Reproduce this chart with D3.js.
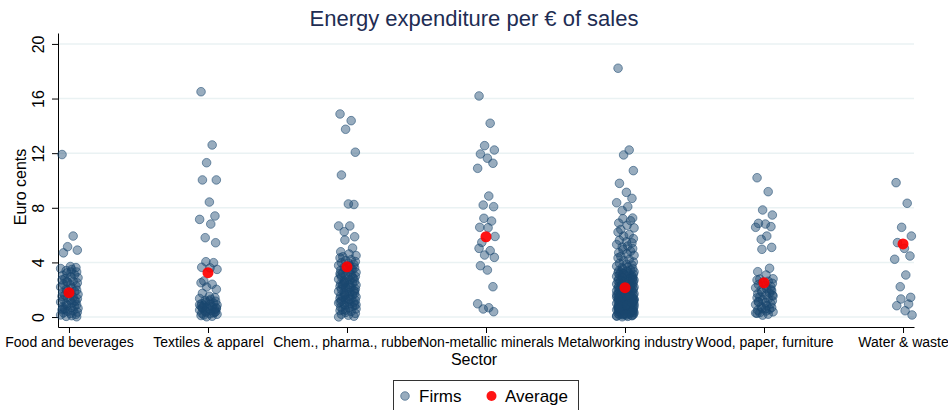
<!DOCTYPE html>
<html>
<head>
<meta charset="utf-8">
<script src="https://cdn.jsdelivr.net/npm/d3@7"></script>
<style>
  html, body { margin: 0; padding: 0; background: #fff; }
  svg { display: block; font-family: "Liberation Sans", Arial, Helvetica, sans-serif; }
</style>
</head>
<body>
<svg id="chart" width="948" height="410"></svg>
<script>
// ---------------- DATA ----------------
const categories = ["Food and beverages", "Textiles & apparel", "Chem., pharma., rubber",
  "Non-metallic minerals", "Metalworking industry", "Wood, paper, furniture", "Water & waste"];

const yTicks = [0, 4, 8, 12, 16, 20];

// Sector averages (euro cents per € of sales)
const averages = [1.78, 3.25, 3.68, 5.88, 2.15, 2.51, 5.35];

// Firm-level values
const foodValues = [11.9, 5.93, 5.15, 4.9, 4.7, 3.7, 3.62, 3.55, 3.48, 3.4, 3.3, 3.22, 3.1, 3.05, 2.95,
  2.88, 2.8, 2.72, 2.63, 2.55, 2.5, 2.41, 2.33, 2.27, 2.2, 2.12, 2.04, 1.97, 1.92, 1.86, 1.8, 1.71,
  1.66, 1.6, 1.52, 1.46, 1.41, 1.34, 1.28, 1.21, 1.15, 1.1, 1.02, 0.96, 0.9, 0.86, 0.8, 0.74, 0.7,
  0.64, 0.58, 0.53, 0.47, 0.42, 0.36, 0.31, 0.26, 0.2, 0.15, 0.1, 0.05, 0.02, 2.6, 1.2, 0.6, 3.3];

const textilesValues = [16.5, 12.6, 11.3, 10.04, 10.04, 8.42, 7.4, 7.15, 6.81, 5.81, 5.44, 4.05, 3.98,
  3.64, 3.6, 3.49, 2.64, 2.51, 2.4, 2.2, 2.03, 1.74, 1.52, 1.42, 1.36, 1.3, 1.22, 1.16, 1.1, 1.02, 0.98,
  0.94, 0.88, 0.84, 0.8, 0.77, 0.73, 0.68, 0.64, 0.6, 0.55, 0.51, 0.48, 0.44, 0.4, 0.36, 0.31, 0.28,
  0.24, 0.2, 0.15, 0.11, 0.06, 0.02, 0.62, 0.71, 1.18, 0.35, 0.9];

const chemValues = [14.87, 14.38, 13.75, 12.07, 10.4, 8.28, 8.24, 6.67, 6.67, 6.25, 5.88, 5.64, 5.05,
  4.78, 4.62, 4.5, 4.41, 4.33, 4.2, 4.14, 4.06, 3.98, 3.93, 3.85, 3.78, 3.74, 3.66, 3.6, 3.53, 3.48,
  3.42, 3.33, 3.27, 3.21, 3.16, 3.09, 3.04, 2.98, 2.93, 2.87, 2.81, 2.77, 2.71, 2.66, 2.6, 2.56, 2.5,
  2.44, 2.39, 2.34, 2.28, 2.24, 2.18, 2.13, 2.07, 2.02, 1.97, 1.93, 1.88, 1.82, 1.77, 1.73, 1.68,
  1.62, 1.57, 1.52, 1.48, 1.43, 1.37, 1.32, 1.27, 1.23, 1.17, 1.12, 1.08, 1.03, 0.97, 0.92, 0.87,
  0.83, 0.77, 0.71, 0.66, 0.6, 0.54, 0.47, 0.41, 0.34, 0.27, 0.2, 0.13, 0.06, 0.01, 2.2, 2.5, 1.9,
  1.6, 2.9, 3.1, 1.3, 0.9, 2.4, 1.1, 3.5, 0.5];

const mineralsValues = [16.19, 14.19, 12.55, 12.23, 11.94, 11.63, 11.26, 10.89, 8.86, 8.2, 8.08, 7.23,
  7.03, 6.57, 6.54, 5.9, 5.47, 5.03, 4.86, 4.54, 4.37, 3.76, 3.44, 2.22, 0.97, 0.68, 0.59, 0.39];

const metalValues = [18.22, 12.23, 11.87, 10.72, 9.79, 9.13, 8.69, 8.37, 8.08, 7.8, 7.25, 7.2, 7.05,
  6.88, 6.72, 6.53, 6.41, 6.22, 6.04, 5.93, 5.74, 5.62, 5.51, 5.43, 5.31, 5.2, 5.12, 5.01, 4.93, 4.82,
  4.71, 4.63, 4.52, 4.44, 4.33, 4.21, 4.12, 4.03, 3.94, 3.87, 3.81, 3.72, 3.66, 3.6, 3.54, 3.49, 3.44,
  3.39, 3.36, 3.31, 3.27, 3.24, 3.19, 3.17, 3.13, 3.09, 3.06, 3.02, 2.98, 2.96, 2.92, 2.89, 2.86, 2.81,
  2.78, 2.76, 2.71, 2.68, 2.64, 2.61, 2.58, 2.54, 2.51, 2.48, 2.44, 2.42, 2.39, 2.35, 2.33, 2.29, 2.27,
  2.24, 2.21, 2.19, 2.16, 2.12, 2.09, 2.07, 2.04, 2.01, 1.98, 1.96, 1.93, 1.9, 1.88, 1.84, 1.82, 1.79,
  1.77, 1.73, 1.71, 1.68, 1.66, 1.62, 1.6, 1.57, 1.54, 1.51, 1.49, 1.46, 1.43, 1.41, 1.38, 1.35, 1.33,
  1.29, 1.27, 1.24, 1.22, 1.19, 1.16, 1.13, 1.11, 1.08, 1.05, 1.03, 0.99, 0.97, 0.94, 0.91, 0.89, 0.86,
  0.83, 0.81, 0.78, 0.76, 0.72, 0.7, 0.67, 0.64, 0.62, 0.59, 0.56, 0.53, 0.51, 0.48, 0.46, 0.42, 0.4,
  0.37, 0.34, 0.32, 0.29, 0.27, 0.23, 0.21, 0.18, 0.15, 0.13, 0.1, 0.07, 0.05, 0.02, 0.31, 0.52, 0.73,
  0.92, 1.12, 1.31, 0.43, 0.61, 0.84, 1.02, 1.21, 1.42, 0.22, 0.12, 1.63, 1.91, 2.32, 2.72, 0.16, 0.36,
  0.57, 0.77, 0.96, 1.17, 1.37, 1.56, 0.26, 0.47, 0.66, 0.87, 1.07, 0.08, 2.05, 2.45, 2.85, 3.2];

const woodValues = [10.2, 9.18, 7.84, 7.47, 6.86, 6.81, 6.62, 6.57, 5.93, 5.69, 5.1, 4.96, 3.57, 3.32,
  3.08, 2.8, 2.78, 2.71, 2.62, 2.55, 2.47, 2.38, 2.31, 2.22, 2.14, 2.06, 1.98, 1.91, 1.83, 1.76, 1.7,
  1.62, 1.55, 1.47, 1.41, 1.33, 1.26, 1.19, 1.12, 1.05, 0.98, 0.91, 0.84, 0.77, 0.7, 0.63, 0.57, 0.5,
  0.44, 0.38, 0.32, 0.27, 0.21, 0.14, 1.6, 1.1, 0.6, 2.0, 0.3];

const waterValues = [9.84, 8.33, 6.57, 5.93, 5.45, 5.03, 4.47, 4.23, 3.08, 2.22, 1.44, 1.32, 0.95, 0.83,
  0.46, 0.15];

const sectorValues = [foodValues, textilesValues, chemValues, mineralsValues, metalValues, woodValues, waterValues];

// Horizontal jitter pattern (fraction of category spacing), applied cyclically
const jitter = [-0.05, 0.03, -0.01, 0.06, -0.04, 0.01, 0.05, -0.06, 0.02, -0.02, 0.055, -0.015, 0.04,
  -0.045, 0.015, 0.065, -0.03];

// ---------------- CHART ----------------
const svg = d3.select("#chart");
const plotLeft = 58, plotRight = 914, plotTop = 33, plotBottom = 327;

const x = d3.scalePoint().domain(categories).range([plotLeft, plotRight]).padding(0.079);
const y = d3.scaleLinear().domain([-0.73, 20.8]).range([plotBottom, plotTop]);

// grid lines
svg.append("g").selectAll("line").data(yTicks).join("line")
  .attr("x1", plotLeft).attr("x2", plotRight)
  .attr("y1", d => y(d)).attr("y2", d => y(d))
  .attr("stroke", "#eaf2f3").attr("stroke-width", 1.5);

// y axis
const yAxis = svg.append("g").attr("transform", `translate(${plotLeft},0)`)
  .call(d3.axisLeft(y).tickValues(yTicks).tickSize(6).tickSizeOuter(0).tickFormat(d3.format("d")));
yAxis.select(".domain").attr("stroke", "#000").attr("stroke-width", 1);
yAxis.selectAll(".tick line").attr("stroke", "#000");
yAxis.selectAll(".tick text")
  .attr("font-size", 16).attr("fill", "#000")
  .attr("font-family", "Liberation Sans, Arial, sans-serif")
  .attr("text-anchor", "middle")
  .attr("transform", "rotate(-90)")
  .attr("x", 0).attr("dy", 0)
  .attr("y", -14);

// x axis
const xAxis = svg.append("g").attr("transform", `translate(0,${plotBottom})`)
  .call(d3.axisBottom(x).tickSize(6).tickSizeOuter(0));
xAxis.select(".domain").attr("stroke", "#000").attr("stroke-width", 1);
xAxis.selectAll(".tick line").attr("stroke", "#000");
xAxis.selectAll(".tick text")
  .attr("font-size", 14).attr("fill", "#000")
  .attr("font-family", "Liberation Sans, Arial, sans-serif")
  .attr("y", 10).attr("dy", "0.71em");

// firm points
const firms = [];
sectorValues.forEach((vals, i) => {
  vals.forEach((v, k) => firms.push({ cat: categories[i], v: v, j: jitter[k % jitter.length] }));
});
svg.append("g").selectAll("circle").data(firms).join("circle")
  .attr("cx", d => x(d.cat) + d.j * x.step())
  .attr("cy", d => y(d.v))
  .attr("r", 4.3)
  .attr("fill", "#1a476f").attr("fill-opacity", 0.45)
  .attr("stroke", "#1a476f").attr("stroke-opacity", 0.55).attr("stroke-width", 1);

// averages
svg.append("g").selectAll("circle").data(averages).join("circle")
  .attr("cx", (d, i) => x(categories[i]))
  .attr("cy", d => y(d))
  .attr("r", 5.5)
  .attr("fill", "#ff0000").attr("fill-opacity", 0.92);

// title
svg.append("text").attr("x", 474).attr("y", 26)
  .attr("text-anchor", "middle").attr("font-size", 22)
  .attr("fill", "#1e2d53")
  .text("Energy expenditure per € of sales");

// axis titles
svg.append("text")
  .attr("transform", "translate(26,187) rotate(-90)")
  .attr("text-anchor", "middle").attr("font-size", 16).attr("fill", "#000")
  .text("Euro cents");
svg.append("text").attr("x", 474).attr("y", 365)
  .attr("text-anchor", "middle").attr("font-size", 16).attr("fill", "#000")
  .text("Sector");

// legend
const lg = svg.append("g");
lg.append("rect").attr("x", 393.5).attr("y", 380.5).attr("width", 185).attr("height", 34)
  .attr("fill", "#fff").attr("stroke", "#333").attr("stroke-width", 1);
lg.append("circle").attr("cx", 405).attr("cy", 396).attr("r", 4.3)
  .attr("fill", "#1a476f").attr("fill-opacity", 0.45)
  .attr("stroke", "#1a476f").attr("stroke-opacity", 0.55);
lg.append("text").attr("x", 419).attr("y", 402).attr("font-size", 17).attr("fill", "#000").text("Firms");
lg.append("circle").attr("cx", 491.5).attr("cy", 396).attr("r", 5)
  .attr("fill", "#ff0000").attr("fill-opacity", 0.92);
lg.append("text").attr("x", 505).attr("y", 402).attr("font-size", 17).attr("fill", "#000").text("Average");
</script>
</body>
</html>
